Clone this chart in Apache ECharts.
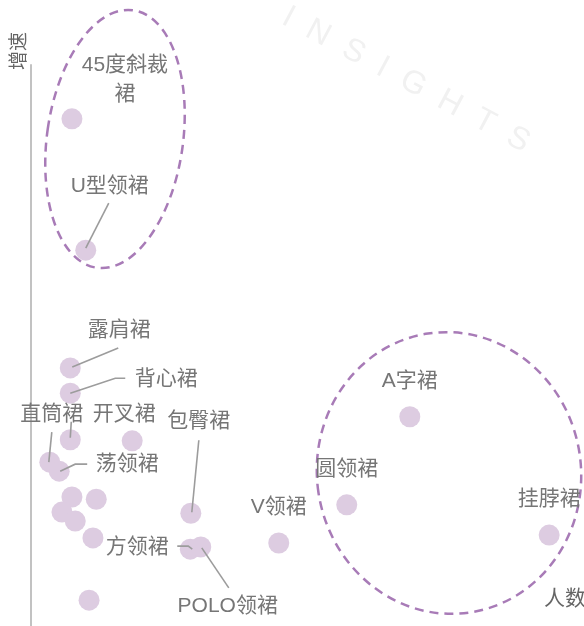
<!DOCTYPE html>
<html>
<head>
<meta charset="utf-8">
<script src="https://cdn.jsdelivr.net/npm/echarts@6/dist/echarts.min.js"></script>
<style>
  html, body { margin: 0; padding: 0; background: #fff; }
  #chart { width: 584px; height: 626px; }
</style>
</head>
<body>
<div id="chart"></div>
<script>
// data (x = 人数, y = 增速, relative units)
const names = ['45度斜裁裙', 'U型领裙', '露肩裙', '背心裙', '', '开叉裙', '直筒裙', '荡领裙',
               '', '', '', '', '', '', '包臀裙', '方领裙', 'POLO领裙', 'V领裙', '圆领裙', 'A字裙', '挂脖裙'];
const people = [7.4, 9.9, 7.1, 7.1, 7.1, 18.3, 3.4, 5.1,
                7.4, 11.8, 5.6, 8.0, 11.2, 10.5, 28.9, 28.8, 30.7, 44.8, 57.1, 68.5, 93.7];
const growth = [90.4, 67.0, 46.0, 41.5, 33.2, 33.0, 29.2, 27.6,
                23.0, 22.6, 20.3, 18.7, 15.7, 4.6, 20.1, 13.7, 14.1, 14.8, 21.6, 37.3, 16.2];

// label placement: pixel offset of the label centre from its point
const labelPos = {
  '45度斜裁裙': [53, -39],
  'U型领裙': [24, -64],
  '露肩裙': [49, -38],
  '背心裙': [96, -14],
  '开叉裙': [-8, -27],
  '直筒裙': [2, -48],
  '荡领裙': [68, -7],
  '包臀裙': [8, -92],
  '方领裙': [-53, -2],
  'POLO领裙': [27, 59],
  'V领裙': [0, -36],
  '圆领裙': [0, -36],
  'A字裙': [0, -36],
  '挂脖裙': [0, -36]
};
// leader lines, by point index: pixel offsets from the point centre
const leaders = {
  1: [[0, -2], [23, -47]],
  2: [[2, -1], [48, -20]],
  3: [[0, 0], [45, -15], [55, -15]],
  4: [[0, -2], [1, -18]],
  6: [[-1, 0], [2, -30]],
  7: [[1, 0], [16, -7], [28, -7]],
  14: [[1, -1], [8, -73]],
  15: [[2, 0], [-2, -3], [-13, -3]],
  16: [[1, 1], [28, 41]]
};

const FONT = '"Liberation Sans", "Noto Sans CJK SC", sans-serif';
const TEXT = '#767676';

let points = [];
for (let i = 0; i < names.length; i++) {
  let item = { name: names[i], value: [people[i], growth[i]] };
  if (labelPos[names[i]]) {
    item.label = { show: true };
    if (names[i] === '45度斜裁裙') {
      item.label.width = 96;
      item.label.overflow = 'break';
    }
  } else {
    item.label = { show: false };
  }
  points.push(item);
}
let leaderData = people.map(function (x, i) { return [x, growth[i], i]; });

var chart = echarts.init(document.getElementById('chart'));
var option = {
  backgroundColor: '#fff',
  animation: false,
  textStyle: { fontFamily: FONT },
  grid: { left: 31, right: 0, top: 65, bottom: 0, outerBoundsMode: 'none', containLabel: false },
  xAxis: {
    type: 'value', min: 0, max: 100,
    name: '人数', nameLocation: 'end', nameGap: -40,
    nameTextStyle: { color: '#666', fontSize: 21, fontFamily: FONT, verticalAlign: 'bottom', padding: [0, 0, 16, 0] },
    axisLine: { show: false }, axisTick: { show: false },
    axisLabel: { show: false }, splitLine: { show: false }
  },
  yAxis: {
    type: 'value', min: 0, max: 100,
    name: '增速', nameLocation: 'end', nameRotate: 90, nameGap: -5,
    nameTextStyle: { color: '#666', fontSize: 19, fontFamily: FONT, verticalAlign: 'bottom', padding: [0, 0, 2, 0] },
    axisLine: { show: true, lineStyle: { color: '#c2c2c2', width: 2 } },
    axisTick: { show: false }, axisLabel: { show: false }, splitLine: { show: false }
  },
  graphic: [
    {
      type: 'text', x: 406, y: 80, rotation: -0.49, z: -10,
      style: {
        text: 'I  N  S  I  G  H  T  S', fill: '#f1f1f1',
        font: '32px "Liberation Sans", sans-serif', align: 'center', verticalAlign: 'middle'
      }
    },
    {
      type: 'ellipse', x: 115, y: 139, rotation: -0.14,
      shape: { cx: 0, cy: 0, rx: 68, ry: 130 },
      style: { fill: 'none', stroke: '#a87bb7', lineWidth: 2.5, lineDash: [9, 6] }
    },
    {
      type: 'ellipse', x: 449, y: 473, rotation: 0.15,
      shape: { cx: 0, cy: 0, rx: 132, ry: 141 },
      style: { fill: 'none', stroke: '#a87bb7', lineWidth: 2.5, lineDash: [9, 6] }
    }
  ],
  series: [
    {
      type: 'scatter',
      symbolSize: 21,
      itemStyle: { color: '#ddcce1', opacity: 1 },
      label: {
        position: 'inside', color: TEXT, fontSize: 21, fontFamily: FONT,
        lineHeight: 29, align: 'center', verticalAlign: 'middle',
        formatter: '{b}'
      },
      labelLayout: function (params) {
        let p = labelPos[names[params.dataIndex]];
        if (!p) return {};
        return { dx: p[0], dy: p[1] };
      },
      data: points
    },
    {
      // leader lines from points to their labels
      type: 'custom',
      z: 3,
      silent: true,
      renderItem: function (params, api) {
        let idx = api.value(2);
        let segs = leaders[idx];
        if (!segs) return null;
        let c = api.coord([api.value(0), api.value(1)]);
        return {
          type: 'polyline',
          shape: { points: segs.map(function (s) { return [c[0] + s[0], c[1] + s[1]]; }) },
          style: { stroke: '#9c9c9c', lineWidth: 1.6, fill: null }
        };
      },
      data: leaderData
    }
  ]
};
chart.setOption(option);
</script>
</body>
</html>
